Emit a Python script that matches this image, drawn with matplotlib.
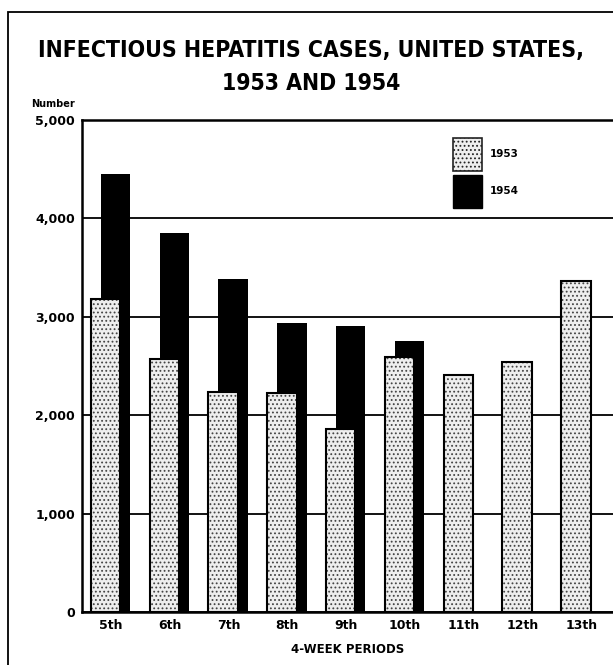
import numpy as np
import matplotlib.pyplot as plt
from matplotlib.patches import Patch, Rectangle

periods = ['5th', '6th', '7th', '8th', '9th', '10th', '11th', '12th', '13th']
cases_1953 = [3180, 2570, 2236, 2226, 1860, 2590, 2410, 2540, 3360]
cases_1954 = [4450, 3850, 3380, 2940, 2910, 2750]
yticks = [0, 1000, 2000, 3000, 4000, 5000]
ytick_labels = ['0', '1,000', '2,000', '3,000', '4,000', '5,000']

plt.rcParams['font.family'] = ['DejaVu Sans']
plt.rcParams['hatch.linewidth'] = 0.8

fig = plt.figure(figsize=(6.13, 6.65), dpi=100)
ax = fig.add_axes([82/613, 53/665, 531/613, 492/665])

x = np.arange(len(periods))
w = 0.5
# 1954 behind, shifted right; 1953 stippled in front
ax.bar(x[:len(cases_1954)] + 0.08, cases_1954, w, color='black', zorder=2)
ax.bar(x - 0.09, cases_1953, w, facecolor='#eeeeee', edgecolor='#444444',
       hatch='....', linewidth=0, zorder=3)
ax.bar(x - 0.09, cases_1953, w, fill=False, edgecolor='black', linewidth=1.5, zorder=4)

ax.set_xlim(-0.49, 8.54)
ax.set_ylim(0, 5000)
ax.set_yticks(yticks)
ax.set_yticklabels(ytick_labels, fontsize=9, fontweight='bold')
ax.set_xticks(x)
ax.set_xticklabels(periods, fontsize=9, fontweight='bold')
ax.tick_params(length=0, pad=5)
ax.set_axisbelow(True)
ax.yaxis.grid(True, color='black', linewidth=1.3)
for s in ['left', 'bottom', 'top']:
    ax.spines[s].set_linewidth(1.8)
ax.spines['right'].set_visible(False)
ax.set_xlabel('4-WEEK PERIODS', fontsize=8.5, fontweight='bold', labelpad=8)

handles = [Patch(facecolor='#eeeeee', edgecolor='#222222', hatch='....', linewidth=1.2),
           Patch(facecolor='black', edgecolor='black')]
ax.legend(handles, ['1953', '1954'], loc='upper left', bbox_to_anchor=(0.689, 0.975),
          frameon=False, handlelength=2.8, handleheight=4.5,
          handletextpad=0.7, labelspacing=0.4, borderpad=0,
          prop={'weight': 'bold', 'size': 7.5})

fig.text(75/613, 1 - 104/665, 'Number', ha='right', va='center', fontsize=7, fontweight='bold')
fig.text(311/613, 1 - 50/665, 'INFECTIOUS HEPATITIS CASES, UNITED STATES,',
         ha='center', va='center', fontsize=16.5, fontweight='bold', fontstretch='condensed')
fig.text(311/613, 1 - 83/665, '1953 AND 1954',
         ha='center', va='center', fontsize=16.5, fontweight='bold', fontstretch='condensed')

fig.add_artist(Rectangle((8/613, -0.05), 1.2, 1.05 - 12/665, fill=False,
                         edgecolor='black', linewidth=1.3, transform=fig.transFigure))

fig.savefig('out.png', dpi=100)
